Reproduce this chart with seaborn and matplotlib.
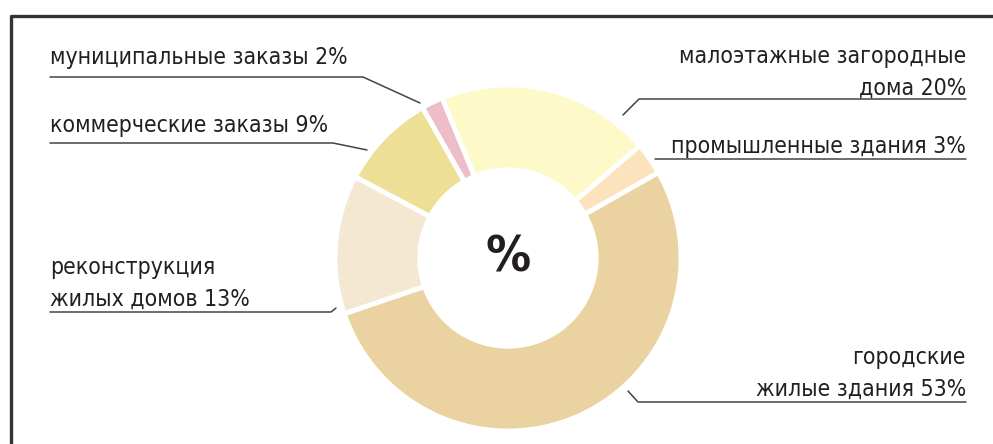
import matplotlib
matplotlib.use("Agg")
import matplotlib.pyplot as plt
import seaborn as sns

# shares, clockwise from the top-left
categories = ["малоэтажные загородные\nдома", "промышленные здания", "городские\nжилые здания",
              "реконструкция\nжилых домов", "коммерческие заказы", "муниципальные заказы"]
shares = [20, 3, 53, 13, 9, 2]
colors = ["#FEF9C9", "#FDE2BE", "#EAD3A1", "#F5E8D2", "#EEDF97", "#EEBEC8"]

sns.set_theme(style="white")
plt.rcParams['font.family'] = ['DejaVu Sans']
plt.rcParams['font.stretch'] = 'condensed'

W, H = 993, 444
fig = plt.figure(figsize=(W / 100, H / 100), dpi=100)
ax = fig.add_axes([0, 0, 1, 1])
ax.set_xlim(0, W)
ax.set_ylim(0, H)
ax.set_aspect("equal")
ax.axis("off")


def Y(y):
    return H - y


cx, cy, r = 508, 258, 173
ax.pie(shares, colors=colors, startangle=112.4, counterclock=False,
       center=(cx, Y(cy)), radius=r,
       wedgeprops=dict(width=r * 0.49, edgecolor="white", linewidth=3.5))
ax.set_xlim(0, W)
ax.set_ylim(0, H)

ax.text(cx, Y(cy), "%", ha="center", va="center", fontsize=36,
        fontweight="bold", color="#231F20")

# frame
ax.plot([11, 11, W + 5], [Y(H + 5), Y(16), Y(16)], color="#333333", lw=2.4,
        solid_capstyle="projecting")

tc = "#231F20"
fs = 16.5
lc = "#444444"
lw = 1.1

labels = [f"{c} {s}%" for c, s in zip(categories, shares)]

# left side labels
ax.text(50, Y(64), labels[5], ha="left", va="baseline", fontsize=fs, color=tc)
ax.plot([50, 363, 420], [Y(77), Y(77), Y(103)], color=lc, lw=lw)

ax.text(50, Y(132), labels[4], ha="left", va="baseline", fontsize=fs, color=tc)
ax.plot([50, 333, 367], [Y(143), Y(143), Y(150)], color=lc, lw=lw)

ax.text(50, Y(306), labels[3], ha="left", va="baseline", fontsize=fs, color=tc,
        linespacing=1.5)
ax.plot([50, 331, 336], [Y(312), Y(312), Y(308)], color=lc, lw=lw)

# right side labels
ax.text(966, Y(95), labels[0], ha="right", va="baseline", fontsize=fs, color=tc,
        linespacing=1.5, multialignment="right")
ax.plot([623, 639, 966], [Y(115), Y(99), Y(99)], color=lc, lw=lw)

ax.text(966, Y(153), labels[1], ha="right", va="baseline", fontsize=fs, color=tc)
ax.plot([655, 966], [Y(159), Y(159)], color=lc, lw=lw)

ax.text(966, Y(396), labels[2], ha="right", va="baseline", fontsize=fs, color=tc,
        linespacing=1.5, multialignment="right")
ax.plot([628, 638, 966], [Y(391), Y(402), Y(402)], color=lc, lw=lw)

fig.savefig("out.png", dpi=100)
